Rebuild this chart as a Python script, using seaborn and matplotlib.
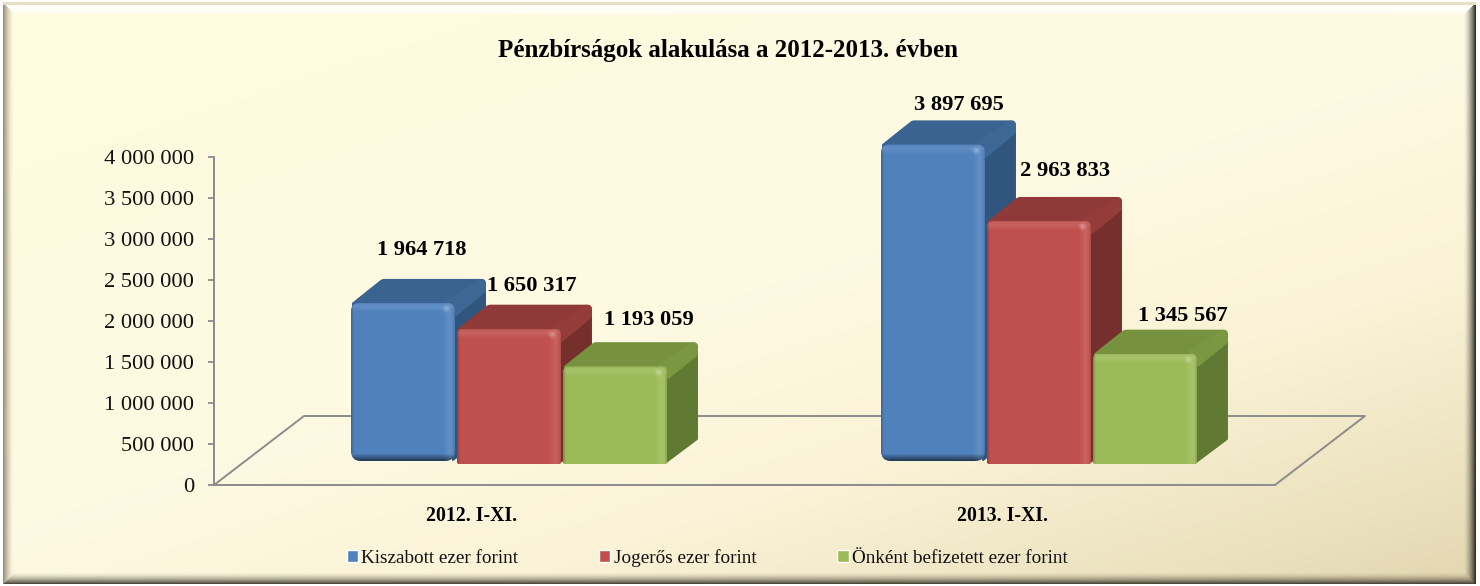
import numpy as np
import pandas as pd
import matplotlib
matplotlib.use("Agg")
import matplotlib.pyplot as plt
import seaborn as sns
from matplotlib.path import Path
from matplotlib.patches import Polygon
from matplotlib.lines import Line2D
from matplotlib.transforms import IdentityTransform, Affine2D

# ---------- data ----------
periods = ["2012. I-XI.", "2013. I-XI."]
kiszabott = [1964718, 3897695]
jogeros = [1650317, 2963833]
onkent = [1193059, 1345567]
series_names = ["Kiszabott ezer forint", "Jogerős ezer forint", "Önként befizetett ezer forint"]
y_ticks = [0, 500000, 1000000, 1500000, 2000000, 2500000, 3000000, 3500000, 4000000]
title_text = "Pénzbírságok alakulása a 2012-2013. évben"

# ---------- style ----------
W, H = 1480, 586
face_colors = ["#4F81BD", "#C0504D", "#9BBB59"]
top_colors = ["#3A6391", "#8F3A38", "#76923F"]
side_colors = ["#31567D", "#752F2D", "#617A33"]
band_colors = ["#3D6896", "#933C39", "#7A9842"]
bottom_dark = [0.55, 0.0, 0.0]
# label offsets from (bar centre, bar top) in pixels, by series then period
label_offsets = [[(19, 53), (26, 39)], [(23, 43), (26, 50)], [(34, 46), (38, 38)]]
DX, DY = 31, 24
GREY = "#8C8C8C"

sns.set_theme(style="white")
plt.rcParams["font.family"] = ["Liberation Serif", "DejaVu Serif"]

fig = plt.figure(figsize=(W / 100, H / 100), dpi=100)
px = Affine2D().scale(1, -1).translate(0, H)  # top-down pixels -> display


def axes_box(x0, ytop, x1, ybot):
    return [x0 / W, 1 - ybot / H, (x1 - x0) / W, (ybot - ytop) / H]


# ---------- background panel ----------
yy, xx = np.mgrid[0:H, 0:W].astype(float)
t = xx / W * 0.45 + yy / H * 0.55
stops = [0.0, 0.5, 0.7, 0.9, 1.0]
chan = [[255, 254, 250, 235, 227], [252, 249, 243, 225, 214], [224, 226, 215, 190, 176]]
img = np.dstack([np.interp(t, stops, c) for c in chan])

d_top, d_left, d_right, d_bottom = yy - 2, xx - 3, 1475 - xx, 583 - yy
stack = np.dstack([d_top, d_left, d_right, d_bottom])
nearest = stack.argmin(axis=2)
dist = stack.min(axis=2)
edge_cols = np.array([[255, 255, 255], [120, 110, 90], [50, 48, 42], [70, 66, 52]], float)
span = np.array([12.0, 10.0, 12.0, 12.0])
power = np.array([0.35, 1.5, 1.6, 1.8])
peak = np.array([1.0, 0.75, 1.0, 0.95])
frac = np.clip(1 - dist / span[nearest], 0, 1) ** power[nearest] * peak[nearest]
frac = frac[..., None]
img = img * (1 - frac) + edge_cols[nearest] * frac
img[(yy >= 0) & (yy < 5) & (dist < 3)] = (232, 222, 196)
img[(dist < 0)] = (255, 255, 255)

ax_bg = fig.add_axes([0, 0, 1, 1], zorder=0)
ax_bg.imshow(img.astype(np.uint8), aspect="auto", interpolation="nearest", extent=(0, W, H, 0))
ax_bg.set_axis_off()
ax_bg.text(728, 51, title_text, ha="center", va="center", fontsize=18, fontweight="bold", color="black")

# ---------- value axis and floor ----------
ax_y = fig.add_axes(axes_box(214, 157, 1275, 485), zorder=1)
ax_y.patch.set_visible(False)
ax_y.set_ylim(0, 4000000)
ax_y.set_xlim((214 - 472) / 531, (1275 - 472) / 531)
ax_y.set_yticks(y_ticks)
ax_y.set_yticklabels([f"{v:,}".replace(",", " ") for v in y_ticks], fontsize=16.2, color="#111111")
ax_y.set_xticks(range(len(periods)))
ax_y.set_xticklabels(periods, fontsize=14.2, fontweight="bold", color="black")
ax_y.tick_params(axis="y", length=4.3, width=1.3, color=GREY, pad=10, left=True)
ax_y.tick_params(axis="x", length=0, pad=15)
for side_name in ["top", "right"]:
    ax_y.spines[side_name].set_visible(False)
for side_name in ["left", "bottom"]:
    ax_y.spines[side_name].set_color(GREY)
    ax_y.spines[side_name].set_linewidth(1.4)
floor_pts = [(214, 485), (304, 416), (1365, 416), (1275, 485)]
ax_y.add_line(Line2D(*zip(*floor_pts), transform=px, color=GREY, lw=1.4, clip_on=False, zorder=1))

# ---------- bars ----------
df = pd.DataFrame({"period": periods, series_names[0]: kiszabott, series_names[1]: jogeros, series_names[2]: onkent})
long_df = df.melt(id_vars="period", var_name="series", value_name="value")

ax = fig.add_axes(axes_box(214, 90, 1275, 464), zorder=2)
sns.barplot(data=long_df, x="period", y="value", hue="series", hue_order=series_names, order=periods,
            palette=face_colors, saturation=1, width=0.6, gap=2 / 106, ax=ax, legend=True)
ax.set_autoscale_on(False)
ax.set_xlim((214 - 509) / 530, (1275 - 509) / 530)
ax.set_ylim(0, 374 / 82 * 1e6)
ax.patch.set_visible(False)


def rounded_path(x0, y0, x1, y1, rt, rb):
    """Rounded box in display coordinates, y up; y1 is the top."""
    verts = [(x0 + rb, y0), (x1 - rb, y0), (x1, y0), (x1, y0 + rb), (x1, y1 - rt), (x1, y1), (x1 - rt, y1),
             (x0 + rt, y1), (x0, y1), (x0, y1 - rt), (x0, y0 + rb), (x0, y0), (x0 + rb, y0), (x0 + rb, y0)]
    codes = [Path.MOVETO, Path.LINETO, Path.CURVE3, Path.CURVE3, Path.LINETO, Path.CURVE3, Path.CURVE3,
             Path.LINETO, Path.CURVE3, Path.CURVE3, Path.LINETO, Path.CURVE3, Path.CURVE3, Path.CLOSEPOLY]
    return Path(verts, codes)


def bevel_image(w, h, dark_bottom):
    yi, xi = np.mgrid[0:h, 0:w].astype(float)
    dl, dr, dt, db = xi, w - 1 - xi, yi, h - 1 - yi
    out = np.zeros((h, w, 4))
    white = np.clip(1 - np.abs(dt - 4) / 6, 0, 1) * 0.11
    white = np.maximum(white, np.clip(1 - np.abs(dr - 5) / 7, 0, 1) * 0.11)
    spot = np.exp(-(((dr - 8) ** 2 + (dt - 6) ** 2) / 9)) * 0.28
    a_white = np.clip(white + spot, 0, 1)
    a_black = np.maximum.reduce([np.clip(1 - dl / 2.5, 0, 1) * 0.2, np.clip(1 - dr / 2, 0, 1) * 0.1,
                                 np.clip(1 - dt / 1.5, 0, 1) * 0.1, np.clip(1 - db / 7, 0, 1) * dark_bottom])
    alpha = np.clip(a_white + a_black, 0, 1)
    safe = np.where(alpha > 0, alpha, 1)
    shade = a_white / safe
    for k in range(3):
        out[..., k] = shade
    out[..., 3] = alpha
    return out


ID = IdentityTransform()
for s, container in enumerate(ax.containers):
    for i, bar in enumerate(container):
        (x0, y0), (x1, y1) = ax.transData.transform(
            [(bar.get_x(), 0), (bar.get_x() + bar.get_width(), bar.get_height())])
        base = 2 + 5 * (s + 3 * i)
        by = y0 + (3 if s == 0 else 0)  # blue stands a little further back
        rt, rb = (8, 10) if s == 0 else (6, 2)
        ins = 6
        lw = ins * 2 * 0.72
        top = Polygon([(x0 + 0.34 * ins, y1 - ins), (x0 + DX + 0.34 * ins, y1 + DY - ins),
                       (x1 + DX - ins, y1 + DY - ins), (x1 - ins, y1 - ins)], closed=True, transform=ID,
                      fc=top_colors[s], ec=top_colors[s], lw=lw, joinstyle="round", zorder=base)
        # keep the rounded stroke from spilling past the front-left corner of the bar
        top.set_clip_path(Path([(x0 + 1, y1 - 12), (x0 + 1, y1), (x0 + DX + 1, y1 + DY + 1), (x1 + DX + 1, y1 + DY + 1),
                                (x1 + DX + 1, y1 - 12), (x0 + 1, y1 - 12)], closed=True), ID)
        side = Polygon([(x1 - 2, y1 - 8), (x1 + DX - 1, y1 + DY - 8), (x1 + DX - 1, by + DY + 1), (x1 - 2, by + 1)],
                       closed=True, transform=ID, fc=side_colors[s], ec=side_colors[s], lw=1.4,
                       joinstyle="round", zorder=base + 1, clip_on=False)
        ib = 4
        band = Polygon([(x1 - 9 + ib, y1), (x1 - 9 + DX + ib, y1 + DY - ib), (x1 + DX - ib, y1 + DY - ib),
                        (x1 + DX - ib, y1 + DY - 15 + ib), (x1, y1 - 13 + ib)],
                       closed=True, transform=ID, fc=band_colors[s], ec=band_colors[s], lw=ib * 2 * 0.72,
                       joinstyle="round", zorder=base + 1.5, clip_on=False)
        for p in (side, band):
            ax.add_patch(p)
        ax.add_artist(top)

        clip = rounded_path(x0, by, x1, y1, rt, rb)
        bar.set_zorder(base + 2)
        bar.set_edgecolor("none")
        bar.set_clip_path(clip, ID)

        w, h = int(round(x1 - x0)), int(round(y1 - by))
        data_box = ax.transData.inverted().transform([(x0, by), (x1, y1)])
        im = ax.imshow(bevel_image(w, h, bottom_dark[s]), aspect="auto", interpolation="bilinear",
                       extent=(data_box[0, 0], data_box[1, 0], data_box[0, 1], data_box[1, 1]),
                       origin="upper", zorder=base + 3)
        im.set_clip_path(clip, ID)

        value = bar.get_height()
        off = label_offsets[s][i]
        ax.annotate(f"{int(round(value)):,}".replace(",", " "),
                    xy=(bar.get_x() + bar.get_width() / 2, value), xytext=off, textcoords="offset pixels",
                    ha="center", va="center", fontsize=16.2, fontweight="bold", color="black",
                    zorder=100, annotation_clip=False)

ax.set_xlim((214 - 509) / 530, (1275 - 509) / 530)
ax.set_ylim(0, 374 / 82 * 1e6)
ax.set_xlabel("")
ax.set_ylabel("")
ax.set_xticks([])
ax.set_yticks([])
for sp in ax.spines.values():
    sp.set_visible(False)

# ---------- legend ----------
handles, labels = ax.get_legend_handles_labels()
ax.legend(handles, labels, loc="center left", bbox_to_anchor=(346.5 / W, 1 - 558 / H), bbox_transform=fig.transFigure,
          ncol=3, frameon=False, borderpad=0, borderaxespad=0, fontsize=13.8, handlelength=0.58, handleheight=0.58,
          handletextpad=0.17, columnspacing=4.24, labelcolor="#111111")

fig.savefig("out.png", dpi=100)
